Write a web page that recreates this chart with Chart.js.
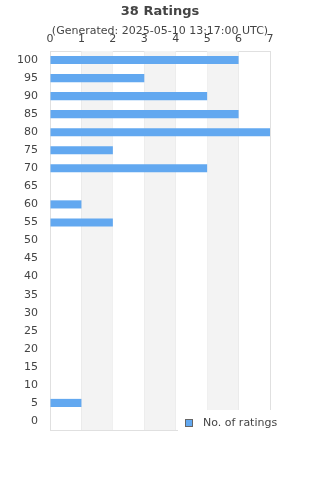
<!DOCTYPE html>
<html lang="en">
<head>
  <meta charset="UTF-8">
  <title>38 Ratings</title>
  <style>
    body { margin: 0; background: #fff; }
    #chart-container { width: 320px; height: 480px; }
  </style>
  <script src="https://cdn.jsdelivr.net/npm/chart.js"></script>
</head>
<body>
  <div id="chart-container">
    <canvas id="ratingsChart"></canvas>
  </div>
  <script>
    const categories = ['100', '95', '90', '85', '80', '75', '70', '65', '60', '55', '50',
                        '45', '40', '35', '30', '25', '20', '15', '10', '5', '0'];
    const ratingCounts = [6, 3, 5, 6, 7, 2, 5, 0, 1, 2, 0, 0, 0, 0, 0, 0, 0, 0, 0, 1, 0];
    const xTicks = [0, 1, 2, 3, 4, 5, 6, 7];
    const seriesLabel = 'No. of ratings';

    const barColor = '#62a8f0';
    const gridColor = '#e0e0e0';
    const textColor = '#444';

    // grey bands on every other column (1-2, 3-4, 5-6)
    const bandPlugin = {
      id: 'bands',
      beforeDatasetsDraw(chart) {
        const { ctx, chartArea, scales } = chart;
        ctx.save();
        ctx.fillStyle = '#f3f3f3';
        for (let i = 1; i < xTicks.length - 1; i += 2) {
          const x0 = scales.x.getPixelForValue(xTicks[i]);
          const x1 = scales.x.getPixelForValue(xTicks[i + 1]);
          ctx.fillRect(x0, chartArea.top, x1 - x0, chartArea.bottom - chartArea.top);
        }
        ctx.restore();
      }
    };

    // legend box drawn over the bottom right corner of the plot
    const legendPlugin = {
      id: 'cornerLegend',
      afterDraw(chart) {
        const { ctx, chartArea } = chart;
        const left = 178, top = chartArea.bottom - 20;
        ctx.save();
        ctx.fillStyle = '#fff';
        ctx.fillRect(left, top, 320 - left, 40);
        ctx.fillStyle = barColor;
        ctx.fillRect(left + 7.5, top + 9.5, 7, 7);
        ctx.strokeStyle = '#666';
        ctx.lineWidth = 1;
        ctx.strokeRect(left + 7.5, top + 9.5, 7, 7);
        ctx.fillStyle = textColor;
        ctx.font = '11px "DejaVu Sans"';
        ctx.textBaseline = 'middle';
        ctx.fillText(chart.data.datasets[0].label, left + 25, top + 13);
        ctx.restore();
      }
    };

    new Chart(document.getElementById('ratingsChart'), {
      type: 'bar',
      data: {
        labels: categories,
        datasets: [{
          label: seriesLabel,
          data: ratingCounts,
          backgroundColor: barColor,
          categoryPercentage: 0.9,
          barPercentage: 0.5
        }]
      },
      options: {
        indexAxis: 'y',
        responsive: true,
        maintainAspectRatio: false,
        animation: false,
        layout: { padding: { left: 0, right: 0, bottom: 50, top: 0 } },
        plugins: {
          legend: { display: false },
          tooltip: { enabled: false },
          title: {
            display: true,
            text: '38 Ratings',
            color: textColor,
            font: { family: 'DejaVu Sans', size: 13, weight: 'bold' },
            padding: { top: 4, bottom: 5 }
          },
          subtitle: {
            display: true,
            text: '(Generated: 2025-05-10 13:17:00 UTC)',
            color: textColor,
            font: { family: 'DejaVu Sans', size: 11 },
            padding: { top: 0, bottom: -10 }
          }
        },
        scales: {
          x: {
            position: 'top',
            min: 0,
            max: 7,
            ticks: { stepSize: 1, color: textColor, padding: 5, font: { family: 'DejaVu Sans', size: 11 } },
            grid: { color: gridColor, drawTicks: false },
            border: { color: gridColor }
          },
          y: {
            ticks: { color: textColor, padding: 12, font: { family: 'DejaVu Sans', size: 11 } },
            grid: { display: false, drawTicks: false },
            border: { color: gridColor },
            afterFit: (s) => { s.width = 50; }
          },
          x2: {
            position: 'bottom',
            min: 0,
            max: 7,
            ticks: { display: false },
            grid: { display: false, drawTicks: false },
            border: { color: gridColor }
          },
          y2: {
            position: 'right',
            ticks: { display: false },
            grid: { display: false, drawTicks: false },
            border: { color: gridColor },
            afterFit: (s) => { s.width = 50; }
          }
        }
      },
      plugins: [bandPlugin, legendPlugin]
    });
  </script>
</body>
</html>
